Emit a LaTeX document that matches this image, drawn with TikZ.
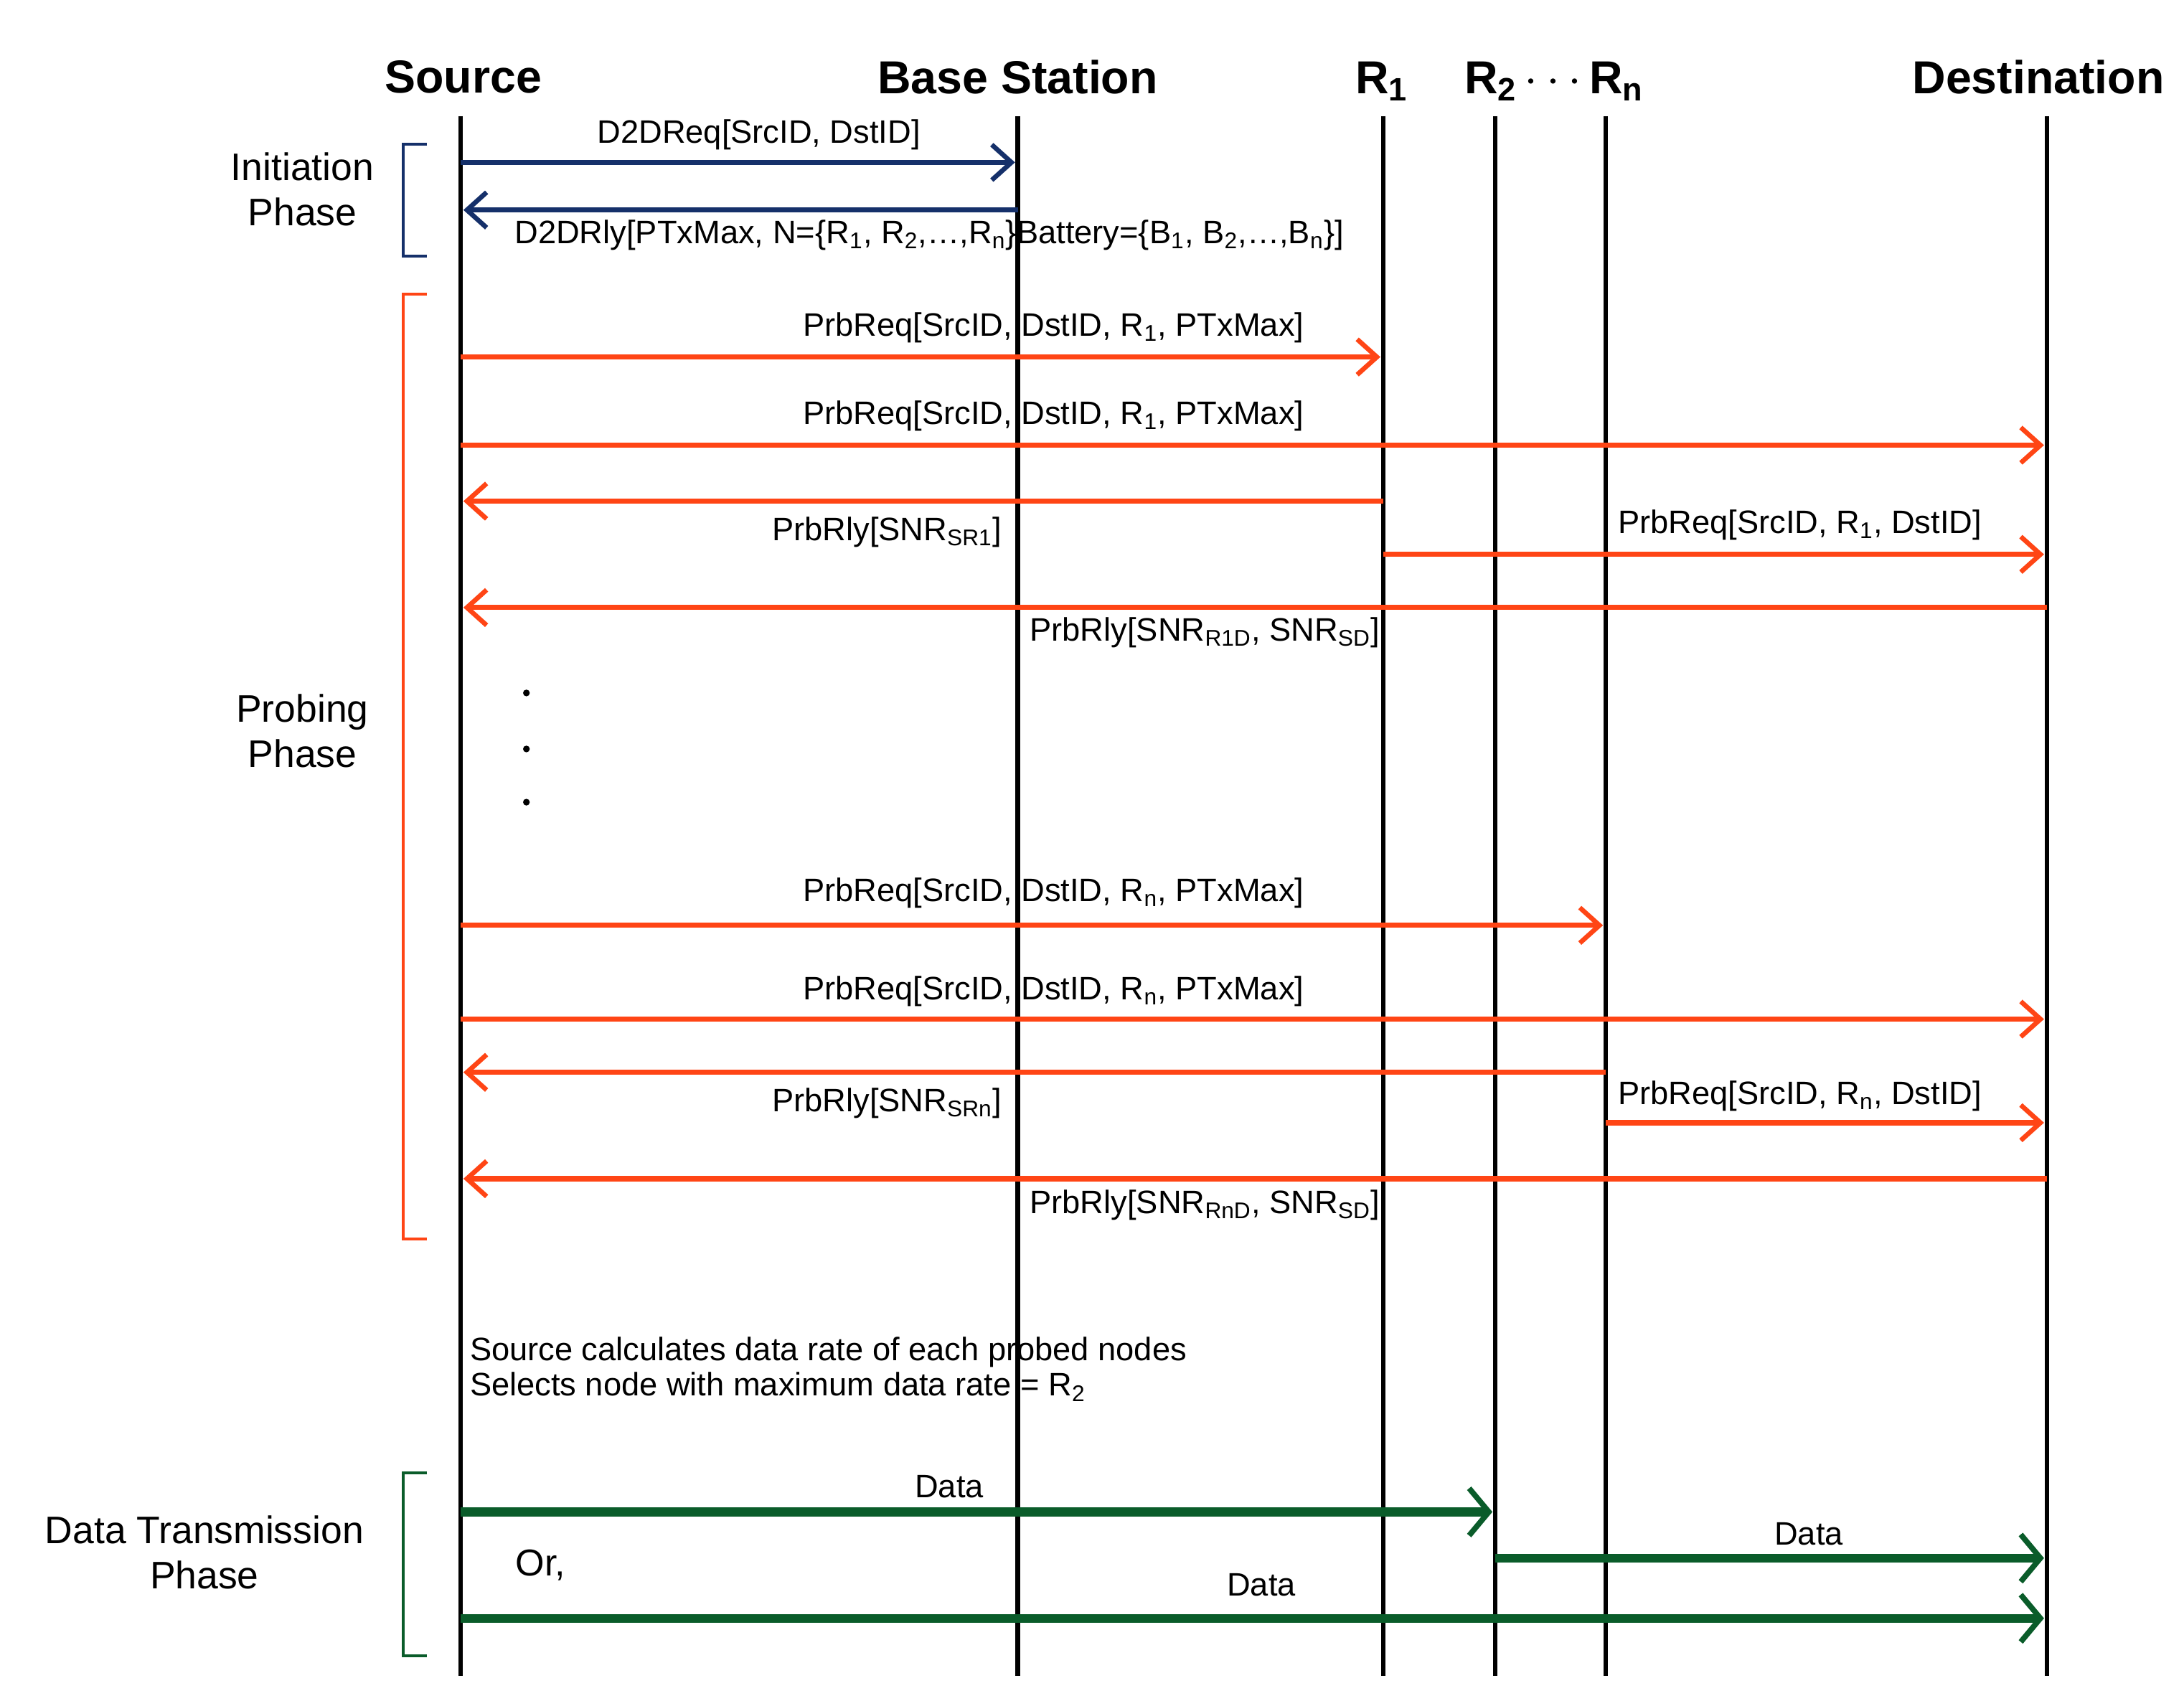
\documentclass[tikz,border=0pt]{standalone}
\usepackage{fontspec}
\setmainfont{Liberation Sans}
\usetikzlibrary{arrows.meta}
\definecolor{navy}{HTML}{15306A}
\definecolor{org}{HTML}{FF4515}
\definecolor{grn}{HTML}{0A5C2A}
\newcommand{\sub}[1]{\textsubscript{#1}}
\begin{document}
\begin{tikzpicture}[x=0.25mm,y=-0.25mm,
  life/.style={line width=2.3pt},
  head/.style={font=\fontsize{23.5}{28}\selectfont\bfseries},
  lbl/.style={font=\fontsize{16.5}{19}\selectfont,inner sep=1pt},
  phase/.style={font=\fontsize{19.5}{23}\selectfont,align=center},
  tip/.style={-{Straight Barb[length=10pt,width=18pt,line width=2.4pt]}},
  bm/.style={navy,line width=2.6pt,tip},
  om/.style={org,line width=2.6pt,tip},
  gm/.style={grn,line width=4.5pt,-{Straight Barb[length=10pt,width=24pt,line width=2.8pt]}},
  br/.style={line width=1.4pt}]
\useasboundingbox[fill=white] (0,0) rectangle (1560,1215);
% lifelines
\foreach \n/\x in {S/329,B/727,A/988,C/1068,N/1147,D/1462}{
  \coordinate (\n t) at (\x,83); \coordinate (\n b) at (\x,1197);
  \draw[life] (\n t) -- (\n b);}
\node[head] (hS) at (331,55) {Source};
\node[head] (hB) at (727,55) {Base Station};
\node[head] (hA) at (987,58) {R\sub{1}};
\node[head] (hC) at (1110,58) {R\sub{2}\,$\cdots$\,R\sub{n}};
\node[head] (hD) at (1456,55) {Destination};
% macro for messages
\newcommand{\msg}[4]{\coordinate (m1) at (#1,#3); \coordinate (m2) at (#2,#3); \draw[#4] (m1) -- (m2);}
% initiation
\msg{329}{725}{116}{bm}
\node[lbl] (l1) at (542,96) {D2DReq[SrcID, DstID]};
\msg{727}{331}{150}{bm}
\node[lbl,anchor=west] (l2) at (366,168) {D2DRly[PTxMax, N=\{R\sub{1}, R\sub{2},…,R\sub{n}\}Battery=\{B\sub{1}, B\sub{2},…,B\sub{n}\}]};
% probing
\msg{329}{986}{255}{om}
\node[lbl,anchor=east] (l3) at (933,234) {PrbReq[SrcID, DstID, R\sub{1}, PTxMax]};
\msg{329}{1460}{318}{om}
\node[lbl,anchor=east] (l4) at (933,297) {PrbReq[SrcID, DstID, R\sub{1}, PTxMax]};
\msg{988}{331}{358}{om}
\node[lbl,anchor=east] (l5) at (717,380) {PrbRly[SNR\sub{SR1}]};
\msg{988}{1460}{396}{om}
\node[lbl,anchor=west] (l6) at (1154,375) {PrbReq[SrcID, R\sub{1}, DstID]};
\msg{1462}{331}{434}{om}
\node[lbl,anchor=west] (l7) at (734,452) {PrbRly[SNR\sub{R1D}, SNR\sub{SD}]};
\foreach \y in {495,535,573}{\fill (376,\y) circle (2.4);}
\msg{329}{1145}{661}{om}
\node[lbl,anchor=east] (l8) at (933,638) {PrbReq[SrcID, DstID, R\sub{n}, PTxMax]};
\msg{329}{1460}{728}{om}
\node[lbl,anchor=east] (l9) at (933,708) {PrbReq[SrcID, DstID, R\sub{n}, PTxMax]};
\msg{1147}{331}{766}{om}
\node[lbl,anchor=east] (l10) at (717,788) {PrbRly[SNR\sub{SRn}]};
\msg{1147}{1460}{802}{om}
\node[lbl,anchor=west] (l11) at (1154,783) {PrbReq[SrcID, R\sub{n}, DstID]};
\msg{1462}{331}{842}{om}
\node[lbl,anchor=west] (l12) at (734,861) {PrbRly[SNR\sub{RnD}, SNR\sub{SD}]};
% note
\node[lbl,anchor=west,align=left] (note) at (334,978) {Source calculates data rate of each probed nodes\\[-1pt]Selects node with maximum data rate = R\sub{2}};
% data
\msg{329}{1066}{1080}{gm}
\node[lbl] (d1) at (678,1062) {Data};
\msg{1068}{1460}{1113}{gm}
\node[lbl] (d2) at (1292,1096) {Data};
\node[font=\fontsize{19}{22}\selectfont] (or) at (386,1118) {Or,};
\msg{329}{1460}{1156}{gm}
\node[lbl] (d3) at (901,1132) {Data};
% brackets
\draw[br,navy] (305,103) -- (288,103) -- (288,183) -- (305,183);
\draw[br,org] (305,210) -- (288,210) -- (288,885) -- (305,885);
\draw[br,grn] (305,1052) -- (288,1052) -- (288,1183) -- (305,1183);
\node[phase] (p1) at (216,135) {Initiation\\Phase};
\node[phase] (p2) at (216,522) {Probing\\Phase};
\node[phase] (p3) at (146,1109) {Data Transmission\\Phase};
\end{tikzpicture}
\end{document}
